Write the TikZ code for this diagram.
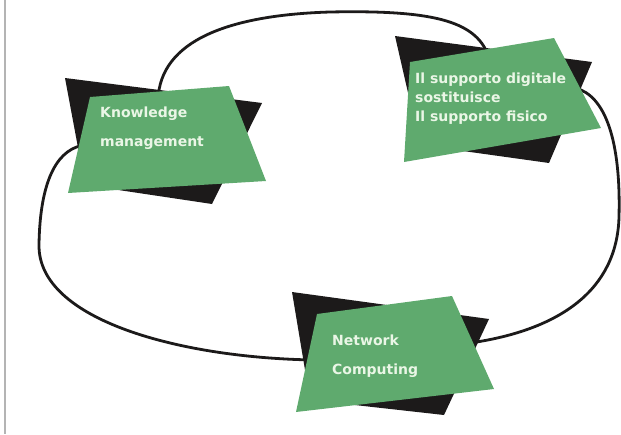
\documentclass[tikz,border=0pt]{standalone}
\usepackage{fontspec}
\setmainfont{DejaVu Sans}
\usetikzlibrary{positioning}
\definecolor{Gc}{HTML}{5FAA6E}
\definecolor{Kc}{HTML}{1C1A1A}
\definecolor{Tc}{HTML}{EAF6E6}
\definecolor{rimc}{HTML}{B4B4B4}
\tikzset{
  slab/.style={fill=Gc},
  shade/.style={fill=Kc},
  lbl/.style={text=Tc, font=\bfseries\fontsize{14}{29}\selectfont, align=left, inner sep=0pt, anchor=base west},
  ring/.style={line width=2.8pt, draw=Kc, line cap=round},
}
\begin{document}
\begin{tikzpicture}[x=1pt,y=-1pt]
  \useasboundingbox (0,0) rectangle (621,434);
  \draw[rimc, line width=1.5pt] (5,0) -- (5,434);
  % where the loop goes in under the cards
  \coordinate (kmT) at (158,100);
  \coordinate (kmL) at (85,145);
  \coordinate (sdT) at (488,55);
  \coordinate (sdR) at (575,88);
  \coordinate (ncR) at (470,343);
  \coordinate (ncL) at (315,360);
  \draw[ring] (kmT) .. controls (160,40) and (230,15) .. (330,12) .. controls (430,10) and (475,20) .. (sdT);
  \draw[ring] (sdR) .. controls (605,95) and (621,140) .. (619,217) .. controls (617,290) and (560,330) .. (ncR);
  \draw[ring] (ncL) .. controls (180,358) and (38,320) .. (39,245) .. controls (40,175) and (60,148) .. (kmL);
  % cards
  \fill[shade] (65,78) -- (262,103) -- (212,204) -- (85,185) -- cycle;
  \fill[slab] (90,97) -- (229,86) -- (266,181) -- (68,193) -- cycle;
  \fill[shade] (395,36) -- (592,62) -- (549,163) -- (420,145) -- cycle;
  \fill[slab] (410,62) -- (554,38) -- (601,128) -- (404,162) -- cycle;
  \fill[shade] (292,292) -- (489,319) -- (444,415) -- (310,400) -- cycle;
  \fill[slab] (317,314) -- (452,296) -- (494,389) -- (296,412) -- cycle;
  \node[lbl] (km) at (100,146) {Knowledge\\management};
  \node[lbl, font=\bfseries\fontsize{14}{19}\selectfont] (sd) at (415,121) {Il supporto digitale\\sostituisce\\Il supporto fisico};
  \node[lbl] (nc) at (332,374) {Network\\Computing};
\end{tikzpicture}
\end{document}
